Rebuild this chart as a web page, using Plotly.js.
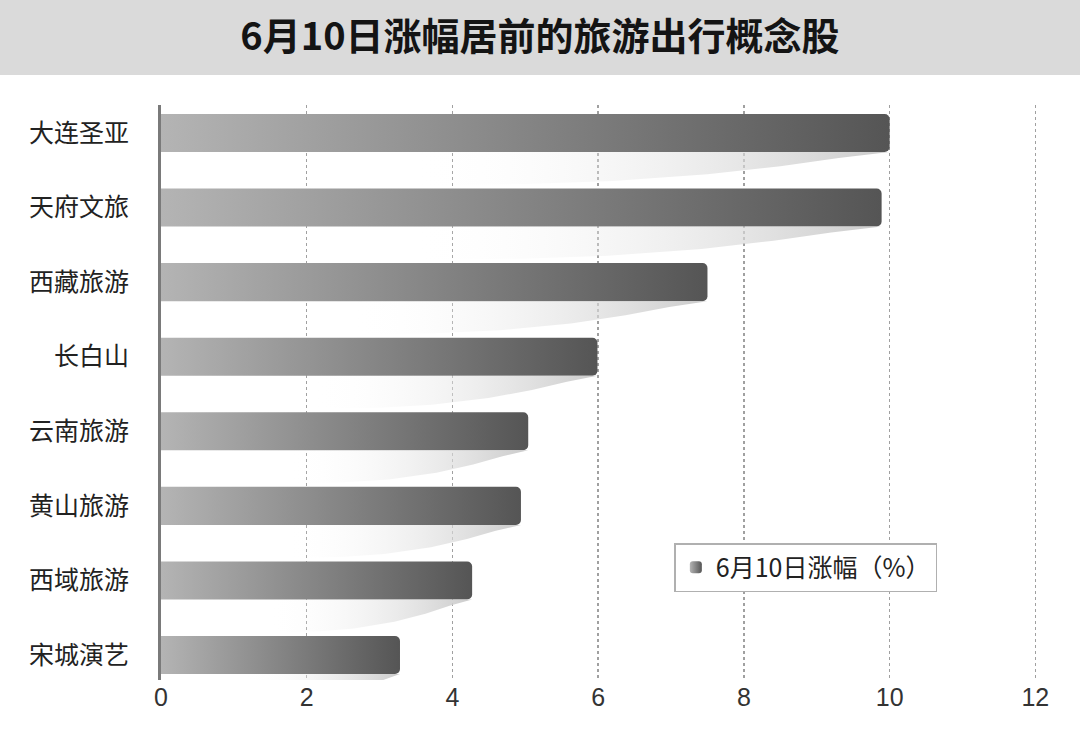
<!DOCTYPE html>
<html>
<head>
<meta charset="utf-8">
<script src="https://cdn.plot.ly/plotly-3.0.1.min.js"></script>
<style>
  html, body { margin: 0; padding: 0; background: #ffffff; }
  #chart { width: 1080px; height: 752px; }
</style>
</head>
<body>
<div id="chart"></div>
<script>
// ---- data ----
const categories = ["大连圣亚", "天府文旅", "西藏旅游", "长白山", "云南旅游", "黄山旅游", "西域旅游", "宋城演艺"];
const values = [10.0, 9.89, 7.5, 5.99, 5.04, 4.94, 4.27, 3.28];
const seriesName = "6月10日涨幅（%）";
const titleText = "6月10日涨幅居前的旅游出行概念股";
const xTicks = [0, 2, 4, 6, 8, 10, 12];

const idx = categories.map((_, i) => i);
const cjk = '"Noto Sans CJK SC", "Noto Sans", sans-serif';

// decorative shadows under each bar, derived from bar value
const barW = 0.51;
const shadowProfile = [[1, 0], [0.93, 0.08], [0.85, 0.19], [0.75, 0.3], [0.62, 0.39], [0.5, 0.43], [0.3, 0.45], [0, 0.45]];
const traces = [];
values.forEach((v, i) => {
  const yb = i + barW / 2;
  const xs = [0, v], ys = [yb, yb];
  shadowProfile.forEach(p => { xs.push(v * p[0]); ys.push(yb + p[1]); });
  traces.push({
    type: 'scatter', x: xs, y: ys, mode: 'lines', fill: 'toself',
    line: { width: 0, color: 'rgba(0,0,0,0)' },
    fillcolor: 'rgba(215,215,215,0.5)',
    fillgradient: {
      type: 'horizontal',
      colorscale: [[0, 'rgba(255,255,255,0)'], [0.35, 'rgba(255,255,255,0)'], [1, 'rgba(200,200,200,0.95)']]
    },
    showlegend: false, hoverinfo: 'skip'
  });
});

traces.push({
  type: 'bar', orientation: 'h', name: seriesName,
  x: values, y: idx, width: barW,
  marker: { color: '#888888', line: { width: 0 } },
  showlegend: true
});

const layout = {
  width: 1080, height: 752,
  margin: { l: 161, r: 41.4, t: 105, b: 72 },
  paper_bgcolor: '#ffffff', plot_bgcolor: '#ffffff',
  barcornerradius: 5,
  title: {
    text: '<b>' + titleText + '</b>',
    font: { family: cjk, size: 38, color: '#141414' },
    x: 0.5, xanchor: 'center', y: 1 - 37 / 752, yanchor: 'middle'
  },
  xaxis: {
    range: [0, 12.05], tickvals: xTicks, ticktext: xTicks.map(String),
    showgrid: true, gridcolor: '#a0a0a0', gridwidth: 1.5, griddash: 'dot',
    zeroline: false, showline: false,
    ticks: '', 
    tickfont: { family: '"Liberation Sans", Arial, sans-serif', size: 25, color: '#333333' },
    fixedrange: true
  },
  yaxis: {
    range: [7.335, -0.375], tickvals: idx, ticktext: categories,
    showgrid: false, zeroline: false,
    showline: true, linecolor: '#7a7a7a', linewidth: 3,
    ticks: 'outside', ticklen: 24, tickcolor: 'rgba(0,0,0,0)',
    tickfont: { family: cjk, size: 25, color: '#222222' },
    fixedrange: true
  },
  legend: {
    x: (672 - 161) / 874, xanchor: 'left',
    y: (680 - 543) / 575, yanchor: 'top',
    bgcolor: '#ffffff', bordercolor: '#b0b0b0', borderwidth: 1.5,
    font: { family: cjk, size: 25, color: '#222222' },
    itemwidth: 30
  },
  shapes: [{
    type: 'rect', xref: 'paper', yref: 'paper',
    x0: -161 / 874, x1: (1080 - 161) / 874,
    y0: 1 + 30 / 575, y1: 1 + 105 / 575,
    fillcolor: '#dadada', line: { width: 0 }, layer: 'below'
  }],
  showlegend: true
};

Plotly.newPlot('chart', traces, layout, { displayModeBar: false, staticPlot: true }).then(() => {
  const NS = 'http://www.w3.org/2000/svg';
  const svg = document.querySelector('#chart .main-svg');
  let defs = svg.querySelector('defs');
  if (!defs) { defs = document.createElementNS(NS, 'defs'); svg.insertBefore(defs, svg.firstChild); }
  const grad = document.createElementNS(NS, 'linearGradient');
  grad.setAttribute('id', 'barGrad');
  grad.setAttribute('x1', '0'); grad.setAttribute('y1', '0');
  grad.setAttribute('x2', '1'); grad.setAttribute('y2', '0');
  [['0', '#b4b4b4'], ['1', '#555555']].forEach(s => {
    const st = document.createElementNS(NS, 'stop');
    st.setAttribute('offset', s[0]); st.setAttribute('stop-color', s[1]);
    grad.appendChild(st);
  });
  defs.appendChild(grad);
  document.querySelectorAll('#chart .barlayer .point path').forEach(p => { p.style.fill = 'url(#barGrad)'; });
  document.querySelectorAll('#chart .legend .legendpoints path').forEach(p => { p.style.fill = 'url(#barGrad)'; });
});
</script>
</body>
</html>
